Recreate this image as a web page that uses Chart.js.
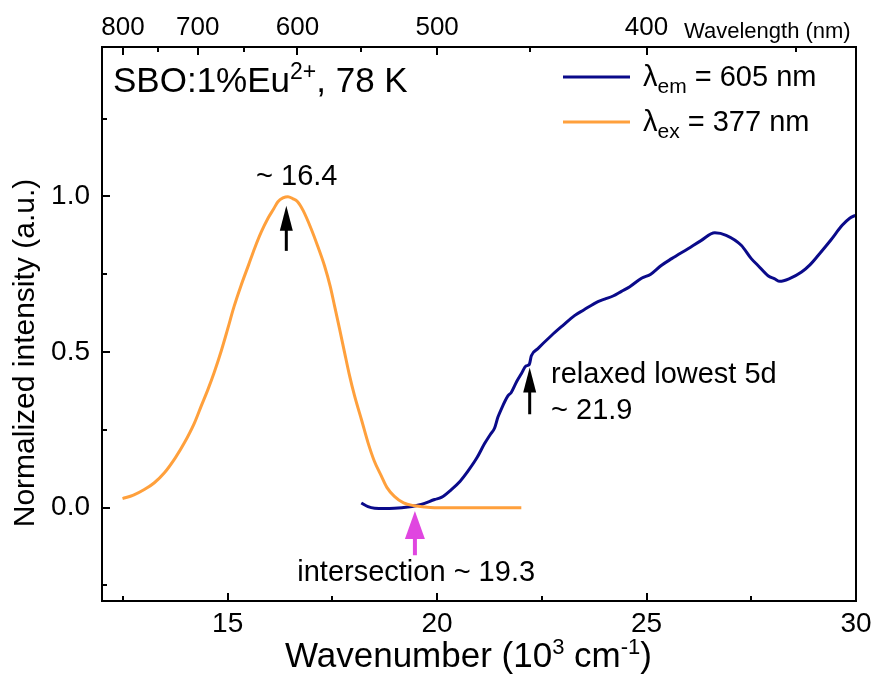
<!DOCTYPE html>
<html>
<head>
<meta charset="utf-8">
<script src="https://cdn.jsdelivr.net/npm/chart.js@4.4.1/dist/chart.umd.min.js"></script>
<style>
html,body{margin:0;padding:0;background:#fff;}
#wrap{width:872px;height:678px;}
</style>
</head>
<body>
<div id="wrap"><canvas id="c" width="872" height="678"></canvas></div>
<script>
// ---- Data (wavenumber in 10^3 cm^-1, normalized intensity) ----
// Excitation spectrum, lambda_em = 605 nm (navy)
const excWavenumber = [18.19,18.35,18.51,18.75,18.98,19.30,19.62,19.94,20.10,20.34,20.55,20.74,20.95,21.13,21.27,21.37,21.45,21.53,21.69,21.77,21.90,22.01,22.12,22.20,22.25,22.40,22.73,23.00,23.28,23.50,23.84,24.00,24.20,24.40,24.60,24.88,25.10,25.35,25.60,25.99,26.30,26.63,26.90,27.26,27.50,27.66,27.90,28.06,28.18,28.40,28.70,28.90,29.10,29.40,29.67,29.85,30.00];
const excIntensity  = [0.015,0.003,-0.002,-0.003,-0.002,0.002,0.010,0.026,0.033,0.058,0.085,0.118,0.160,0.205,0.235,0.255,0.290,0.316,0.359,0.370,0.405,0.430,0.455,0.460,0.488,0.510,0.553,0.585,0.617,0.635,0.662,0.670,0.680,0.695,0.710,0.737,0.750,0.778,0.800,0.832,0.858,0.883,0.875,0.843,0.800,0.778,0.745,0.735,0.727,0.735,0.757,0.780,0.811,0.860,0.907,0.930,0.940];
// Emission spectrum, lambda_ex = 377 nm (orange)
const emiWavenumber = [12.49,12.75,13.01,13.25,13.49,13.75,13.97,14.20,14.37,14.53,14.68,14.85,15.00,15.15,15.32,15.50,15.64,15.80,15.96,16.10,16.20,16.32,16.44,16.55,16.67,16.80,16.99,17.15,17.31,17.45,17.55,17.67,17.79,17.90,18.03,18.20,18.35,18.50,18.67,18.80,18.98,19.20,19.46,19.70,19.94,21.00,22.01];
const emiIntensity  = [0.029,0.040,0.058,0.080,0.112,0.160,0.209,0.270,0.327,0.380,0.435,0.505,0.574,0.645,0.714,0.780,0.832,0.885,0.929,0.960,0.983,0.995,0.999,0.993,0.983,0.955,0.897,0.840,0.778,0.710,0.649,0.575,0.499,0.430,0.359,0.280,0.209,0.150,0.101,0.065,0.036,0.015,0.006,0.002,0.000,0.000,0.000];

// ---- Ticks ----
const bottomMajorTicks = [15, 20, 25, 30];
const bottomMinorTicks = [12.5, 17.5, 22.5, 27.5];
const leftMajorTicks = [0, 0.5, 1.0];
const leftMinorTicks = [-0.25, 0.25, 0.75, 1.25];
const topMajorWavelengths = [800, 700, 600, 500, 400];
const topMinorWavelengths = [750, 650, 550, 450, 350];

const seriesNames = ['\u03BBem = 605 nm', '\u03BBex = 377 nm'];

const FONT = "'Liberation Sans', Arial, sans-serif";
const NAVY = '#0a0a8a';
const ORANGE = '#ffa03c';
const MAGENTA = '#e046e0';

const toPoints = (xs, ys) => xs.map((x, i) => ({x: x, y: ys[i]}));
const nm2wn = nm => 10000 / nm;

function drawRich(ctx, parts, x, y) {
  let cx = x;
  for (const p of parts) {
    ctx.font = p.size + 'px ' + FONT;
    ctx.textAlign = 'left';
    ctx.textBaseline = 'alphabetic';
    ctx.fillText(p.t, cx, y + (p.dy || 0));
    cx += ctx.measureText(p.t).width;
  }
  return cx - x;
}
function arrow(ctx, x, yTail, yTip, color, headW, headL, lw) {
  ctx.save();
  ctx.strokeStyle = color; ctx.fillStyle = color; ctx.lineWidth = lw;
  ctx.beginPath(); ctx.moveTo(x, yTail); ctx.lineTo(x, yTip + headL - 1); ctx.stroke();
  ctx.beginPath(); ctx.moveTo(x, yTip); ctx.lineTo(x - headW / 2, yTip + headL); ctx.lineTo(x + headW / 2, yTip + headL); ctx.closePath(); ctx.fill();
  ctx.restore();
}

const overlay = {
  id: 'overlay',
  afterDatasetsDraw(chart) {
    const {ctx, chartArea: a, scales} = chart;
    const X = scales.x, Y = scales.y, XT = scales.xTop;
    ctx.save();
    // frame
    ctx.strokeStyle = '#000'; ctx.lineWidth = 2;
    ctx.strokeRect(a.left, a.top, a.right - a.left, a.bottom - a.top);
    // inward ticks
    ctx.lineWidth = 2;
    const tick = (x1, y1, x2, y2) => { ctx.beginPath(); ctx.moveTo(x1, y1); ctx.lineTo(x2, y2); ctx.stroke(); };
    bottomMajorTicks.forEach(v => { const px = Math.round(X.getPixelForValue(v)); tick(px, a.bottom, px, a.bottom - 8); });
    bottomMinorTicks.forEach(v => { const px = Math.round(X.getPixelForValue(v)); tick(px, a.bottom, px, a.bottom - 5); });
    topMajorWavelengths.forEach(v => { const px = Math.round(XT.getPixelForValue(nm2wn(v))); tick(px, a.top, px, a.top + 8); });
    topMinorWavelengths.forEach(v => { const px = Math.round(XT.getPixelForValue(nm2wn(v))); tick(px, a.top, px, a.top + 5); });
    leftMajorTicks.forEach(v => { const py = Math.round(Y.getPixelForValue(v)); tick(a.left, py, a.left + 8, py); });
    leftMinorTicks.forEach(v => { const py = Math.round(Y.getPixelForValue(v)); tick(a.left, py, a.left + 5, py); });

    ctx.fillStyle = '#000';
    // top-axis unit label
    ctx.font = '22px ' + FONT; ctx.textAlign = 'left'; ctx.textBaseline = 'alphabetic';
    ctx.fillText('Wavelength (nm)', 684, 38);

    // axis titles
    drawRich(ctx, [{t: 'Wavenumber (10', size: 35}, {t: '3', size: 22, dy: -13}, {t: ' cm', size: 35}, {t: '-1', size: 22, dy: -13}, {t: ')', size: 35}], 285, 667);
    ctx.save();
    ctx.translate(26, 353); ctx.rotate(-Math.PI / 2);
    ctx.font = '30px ' + FONT; ctx.textAlign = 'center'; ctx.textBaseline = 'middle';
    ctx.fillText('Normalized intensity (a.u.)', 0, 0);
    ctx.restore();

    // sample label
    drawRich(ctx, [{t: 'SBO:1%Eu', size: 35}, {t: '2+', size: 23, dy: -13}, {t: ', 78 K', size: 35}], 113, 92);

    // legend
    const legendRows = [{c: NAVY, sub: 'em', rest: ' = 605 nm', y: 77}, {c: ORANGE, sub: 'ex', rest: ' = 377 nm', y: 122}];
    legendRows.forEach(r => {
      ctx.strokeStyle = r.c; ctx.lineWidth = 3;
      ctx.beginPath(); ctx.moveTo(563, r.y); ctx.lineTo(630, r.y); ctx.stroke();
      ctx.fillStyle = '#000';
      drawRich(ctx, [{t: '\u03BB', size: 29}, {t: r.sub, size: 21, dy: 7}, {t: r.rest, size: 29}], 643, r.y + 9);
    });

    // annotations (data coordinates)
    ctx.fillStyle = '#000';
    ctx.font = '29px ' + FONT; ctx.textBaseline = 'alphabetic';
    ctx.textAlign = 'center';
    ctx.fillText('~ 16.4', X.getPixelForValue(16.65), Y.getPixelForValue(1.036));
    ctx.fillText('intersection ~ 19.3', X.getPixelForValue(19.5), Y.getPixelForValue(-0.237));
    ctx.textAlign = 'left';
    ctx.fillText('relaxed lowest 5d', X.getPixelForValue(22.72), Y.getPixelForValue(0.40));
    ctx.fillText('~ 21.9', X.getPixelForValue(22.72), Y.getPixelForValue(0.284));

    arrow(ctx, X.getPixelForValue(16.4), Y.getPixelForValue(0.825), Y.getPixelForValue(0.97), '#000', 13, 25, 3);
    arrow(ctx, X.getPixelForValue(22.21), Y.getPixelForValue(0.30), Y.getPixelForValue(0.45), '#000', 13, 25, 3);
    arrow(ctx, X.getPixelForValue(19.47), Y.getPixelForValue(-0.153), Y.getPixelForValue(-0.011), MAGENTA, 20, 28, 4);
    ctx.restore();
  }
};

const fixedPad = (s) => { s.paddingLeft = 0; s.paddingRight = 0; s.paddingTop = 0; s.paddingBottom = 0; };

new Chart(document.getElementById('c'), {
  type: 'line',
  data: {
    datasets: [
      {label: seriesNames[1], data: toPoints(emiWavenumber, emiIntensity), borderColor: ORANGE, borderWidth: 3, pointRadius: 0, cubicInterpolationMode: 'monotone', fill: false},
      {label: seriesNames[0], data: toPoints(excWavenumber, excIntensity), borderColor: NAVY, borderWidth: 3, pointRadius: 0, cubicInterpolationMode: 'monotone', fill: false}
    ]
  },
  options: {
    responsive: false,
    animation: false,
    devicePixelRatio: 1,
    layout: {padding: {left: 0, right: 16, top: 0, bottom: 0}},
    plugins: {legend: {display: false}, tooltip: {enabled: false}},
    scales: {
      x: {
        type: 'linear', position: 'bottom', min: 12, max: 30,
        grid: {display: false, drawTicks: false}, border: {display: false},
        afterBuildTicks: s => { s.ticks = bottomMajorTicks.map(v => ({value: v})); },
        ticks: {color: '#000', font: {family: FONT, size: 28}, padding: 6, maxRotation: 0, autoSkip: false, callback: v => String(v)},
        afterFit: s => { s.height = 77; fixedPad(s); }
      },
      xTop: {
        type: 'linear', position: 'top', min: 12, max: 30,
        grid: {display: false, drawTicks: false}, border: {display: false},
        afterBuildTicks: s => { s.ticks = topMajorWavelengths.map(v => ({value: nm2wn(v)})); },
        ticks: {color: '#000', font: {family: FONT, size: 26}, padding: 4, maxRotation: 0, autoSkip: false, callback: v => String(Math.round(10000 / v))},
        afterFit: s => { s.height = 47; fixedPad(s); }
      },
      y: {
        type: 'linear', position: 'left', min: -0.3, max: 1.48,
        grid: {display: false, drawTicks: false}, border: {display: false},
        afterBuildTicks: s => { s.ticks = leftMajorTicks.map(v => ({value: v})); },
        ticks: {color: '#000', font: {family: FONT, size: 28}, padding: 12, autoSkip: false, callback: v => Number(v).toFixed(1)},
        afterFit: s => { s.width = 102; fixedPad(s); }
      }
    }
  },
  plugins: [overlay]
});
</script>
</body>
</html>
